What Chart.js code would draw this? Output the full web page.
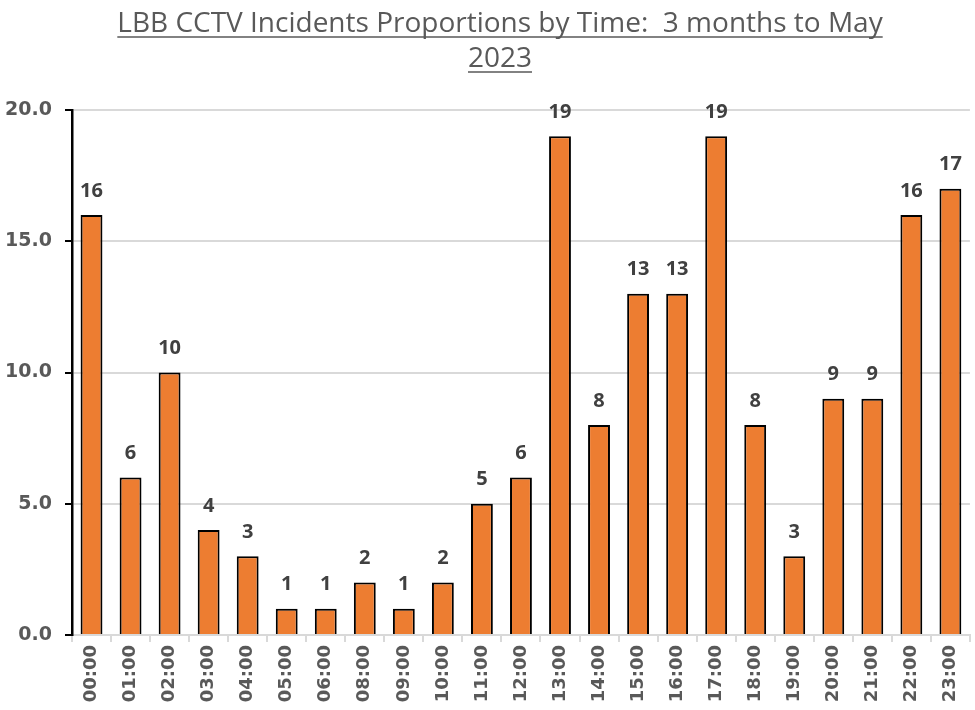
<!DOCTYPE html>
<html>
<head>
<meta charset="utf-8">
<script src="https://cdn.jsdelivr.net/npm/chart.js@4"></script>
<style>
  html, body { margin: 0; padding: 0; background: #fff; }
  #wrap { width: 975px; height: 710px; }
</style>
</head>
<body>
<div id="wrap"><canvas id="chart" width="975" height="710"></canvas></div>
<script>
var hours = ["00:00", "01:00", "02:00", "03:00", "04:00", "05:00", "06:00", "08:00", "09:00", "10:00", "11:00", "12:00",
    "13:00", "14:00", "15:00", "16:00", "17:00", "18:00", "19:00", "20:00", "21:00", "22:00", "23:00"];
var incidents = [16, 6, 10, 4, 3, 1, 1, 2, 1, 2, 5, 6, 19, 8, 13, 13, 19, 8, 3, 9, 9, 16, 17];
var yTicks = [0, 5, 10, 15, 20];
var titleLines = ["LBB CCTV Incidents Proportions by Time:  3 months to May", "2023"];

// title drawn by hand so it can be underlined like the original
var titlePlugin = {
    id: 'underlinedTitle',
    afterDraw: function (chart) {
        var ctx = chart.ctx;
        ctx.save();
        ctx.font = '28px "Liberation Sans Narrow", "Open Sans", sans-serif';
        ctx.fillStyle = '#595959';
        ctx.strokeStyle = '#595959';
        ctx.lineWidth = 1.5;
        ctx.textAlign = 'center';
        ctx.textBaseline = 'alphabetic';
        var baselines = [32, 67];
        titleLines.forEach(function (line, i) {
            ctx.fillText(line, 500, baselines[i]);
            var w = ctx.measureText(line).width;
            ctx.beginPath();
            ctx.moveTo(500 - w / 2, baselines[i] + 5);
            ctx.lineTo(500 + w / 2, baselines[i] + 5);
            ctx.stroke();
        });
        ctx.restore();
    }
};

// value labels above each bar
var labelPlugin = {
    id: 'barValues',
    afterDatasetsDraw: function (chart) {
        var ctx = chart.ctx;
        var meta = chart.getDatasetMeta(0);
        ctx.save();
        ctx.font = 'bold 20px "Open Sans", sans-serif';
        ctx.fillStyle = '#404040';
        ctx.textAlign = 'center';
        ctx.textBaseline = 'bottom';
        meta.data.forEach(function (bar, i) {
            ctx.fillText(String(incidents[i]), bar.x, bar.y - 14);
        });
        ctx.restore();
    }
};

new Chart(document.getElementById('chart'), {
    type: 'bar',
    data: {
        labels: hours,
        datasets: [{
            data: incidents,
            backgroundColor: '#ED7D31',
            borderColor: '#000000',
            borderWidth: 2,
            categoryPercentage: 1,
            barPercentage: 0.56
        }]
    },
    plugins: [titlePlugin, labelPlugin],
    options: {
        responsive: false,
        animation: false,
        layout: { padding: { top: 110, right: 0, left: 0, bottom: 0 } },
        plugins: {
            legend: { display: false },
            title: { display: false },
            tooltip: { enabled: false }
        },
        scales: {
            x: {
                grid: {
                    offset: true,
                    drawOnChartArea: false,
                    color: '#d9d9d9',
                    tickLength: 7,
                    lineWidth: 2
                },
                border: { color: '#d9d9d9', width: 2 },
                ticks: {
                    minRotation: 90,
                    maxRotation: 90,
                    autoSkip: false,
                    color: '#595959',
                    padding: 3,
                    font: { family: '"DejaVu Sans", sans-serif', size: 18, weight: 'bold' }
                },
                afterFit: function (scale) { scale.height = 75; }
            },
            y: {
                min: 0,
                max: 20,
                afterBuildTicks: function (scale) {
                    scale.ticks = yTicks.map(function (v) { return { value: v }; });
                },
                grid: {
                    color: '#d9d9d9',
                    lineWidth: 2,
                    tickColor: '#000000',
                    tickLength: 7
                },
                border: { color: '#000000', width: 2.5 },
                ticks: {
                    color: '#595959',
                    padding: 13,
                    font: { family: '"DejaVu Sans", sans-serif', size: 19, weight: 'bold' },
                    callback: function (v) { return v.toFixed(1); }
                },
                afterFit: function (scale) { scale.width = 72; }
            }
        }
    }
});
</script>
</body>
</html>
